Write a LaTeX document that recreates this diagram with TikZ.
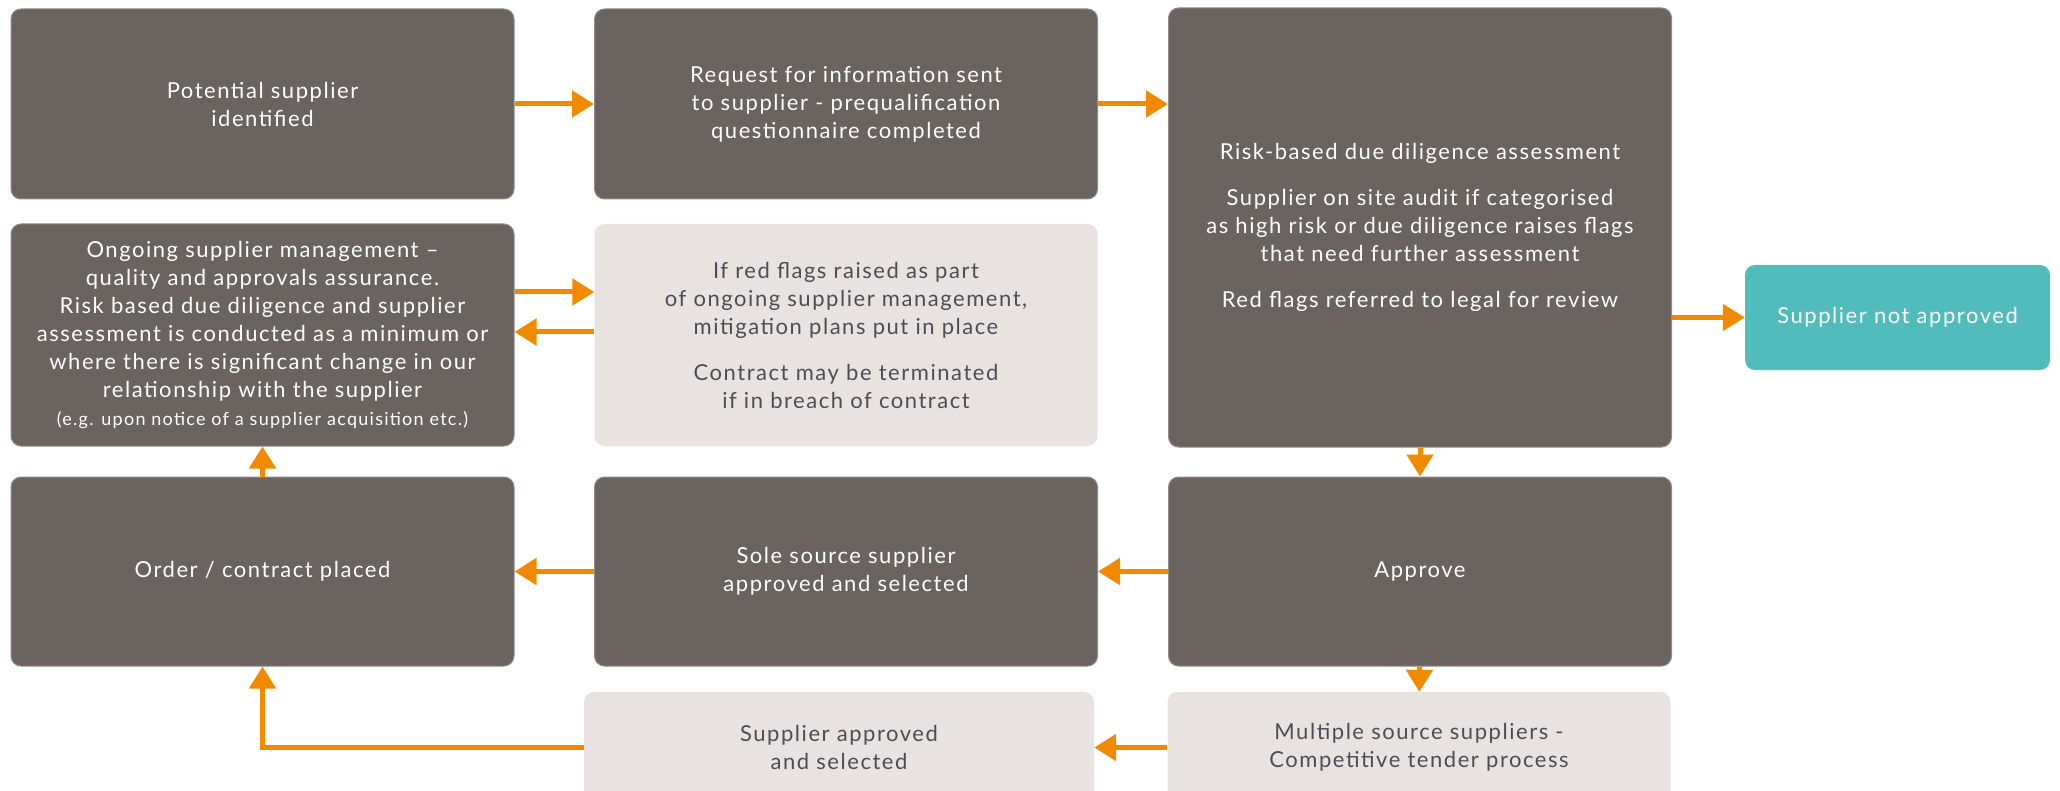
\documentclass[tikz,border=0pt]{standalone}
\usepackage{fontspec}
\setmainfont[LetterSpace=7]{Lato}
\usetikzlibrary{arrows.meta}

\definecolor{stepgrey}{HTML}{6B6360}
\definecolor{steplight}{HTML}{E8E3E0}
\definecolor{stepteal}{HTML}{50BCBC}
\definecolor{floworange}{HTML}{F28A00}
\definecolor{lighttext}{HTML}{4D4D57}

\begin{document}
\begin{tikzpicture}
		[x=1pt, y=-1pt,
		 base box/.style={rectangle, rounded corners=10pt, inner sep=0pt, align=center,
		   minimum width=503pt, font=\fontsize{22}{28}\selectfont},
		 dark box/.style={base box, fill=stepgrey, draw=stepgrey!75!white, line width=1pt, text=white},
		 light box/.style={base box, fill=steplight, text=lighttext},
		 teal box/.style={base box, fill=stepteal, text=white, minimum width=305pt, minimum height=105pt},
		 flow/.style={color=floworange, line width=5pt, -{Triangle[length=22pt, width=26pt]}}]
		\useasboundingbox (0,0) rectangle (2060,791);

		% top row
		\node[dark box, minimum height=190pt] (potential) at (262.5,104) {Potential supplier\\identified};
		\node[dark box, minimum height=190pt] (request) at (846,104)
			{Request for information sent\\to supplier - prequalification\\questionnaire completed};
		\node[dark box, minimum height=439pt] (diligence) at (1420,227.5)
			{Risk-based due diligence assessment\\[18pt]
			 Supplier on site audit if categorised\\as high risk or due diligence raises flags\\that need further assessment\\[18pt]
			 Red flags referred to legal for review};
		\node[teal box] (notapproved) at (1897.5,317.5) {Supplier not approved};

		% middle row
		\node[dark box, minimum height=222pt] (ongoing) at (262.5,335)
			{Ongoing supplier management --\\quality and approvals assurance.\\Risk based due diligence and supplier\\
			 assessment is conducted as a minimum or\\where there is significant change in our\\relationship with the supplier\\
			 {\fontsize{18}{28}\selectfont (e.g. upon notice of a supplier acquisition etc.)}};
		\node[light box, minimum height=222pt] (redflags) at (846,335)
			{If red flags raised as part\\of ongoing supplier management,\\mitigation plans put in place\\[18pt]
			 Contract may be terminated\\if in breach of contract};

		% lower rows
		\node[dark box, minimum height=189pt] (order) at (262.5,571.5) {Order / contract placed};
		\node[dark box, minimum height=189pt] (sole) at (846,571.5) {Sole source supplier\\approved and selected};
		\node[dark box, minimum height=189pt] (approve) at (1420,571.5) {Approve};
		\node[light box, minimum width=510pt, minimum height=111pt] (selected) at (839,747.5)
			{Supplier approved\\and selected};
		\node[light box, minimum height=111pt] (multiple) at (1419,747.5)
			{Multiple source suppliers -\\Competitive tender process};

		\path (potential) edge[flow] (request);
		\path (request.east) edge[flow] (request.east -| diligence.west);
		\path (diligence.east |- notapproved.west) edge[flow] (notapproved.west);
		\path (diligence) edge[flow] (approve);
		\path (approve) edge[flow] (sole);
		\path (sole) edge[flow] (order);
		\path (approve) edge[flow] (multiple);
		\path (multiple) edge[flow] (selected);
		\draw[flow] (selected.west) -| (order.south);
		\path (order) edge[flow] (ongoing);
		\path (ongoing.east |- 0,292) edge[flow] (redflags.west |- 0,292);
		\path (redflags.west |- 0,332) edge[flow] (ongoing.east |- 0,332);
		\end{tikzpicture}
\end{document}
